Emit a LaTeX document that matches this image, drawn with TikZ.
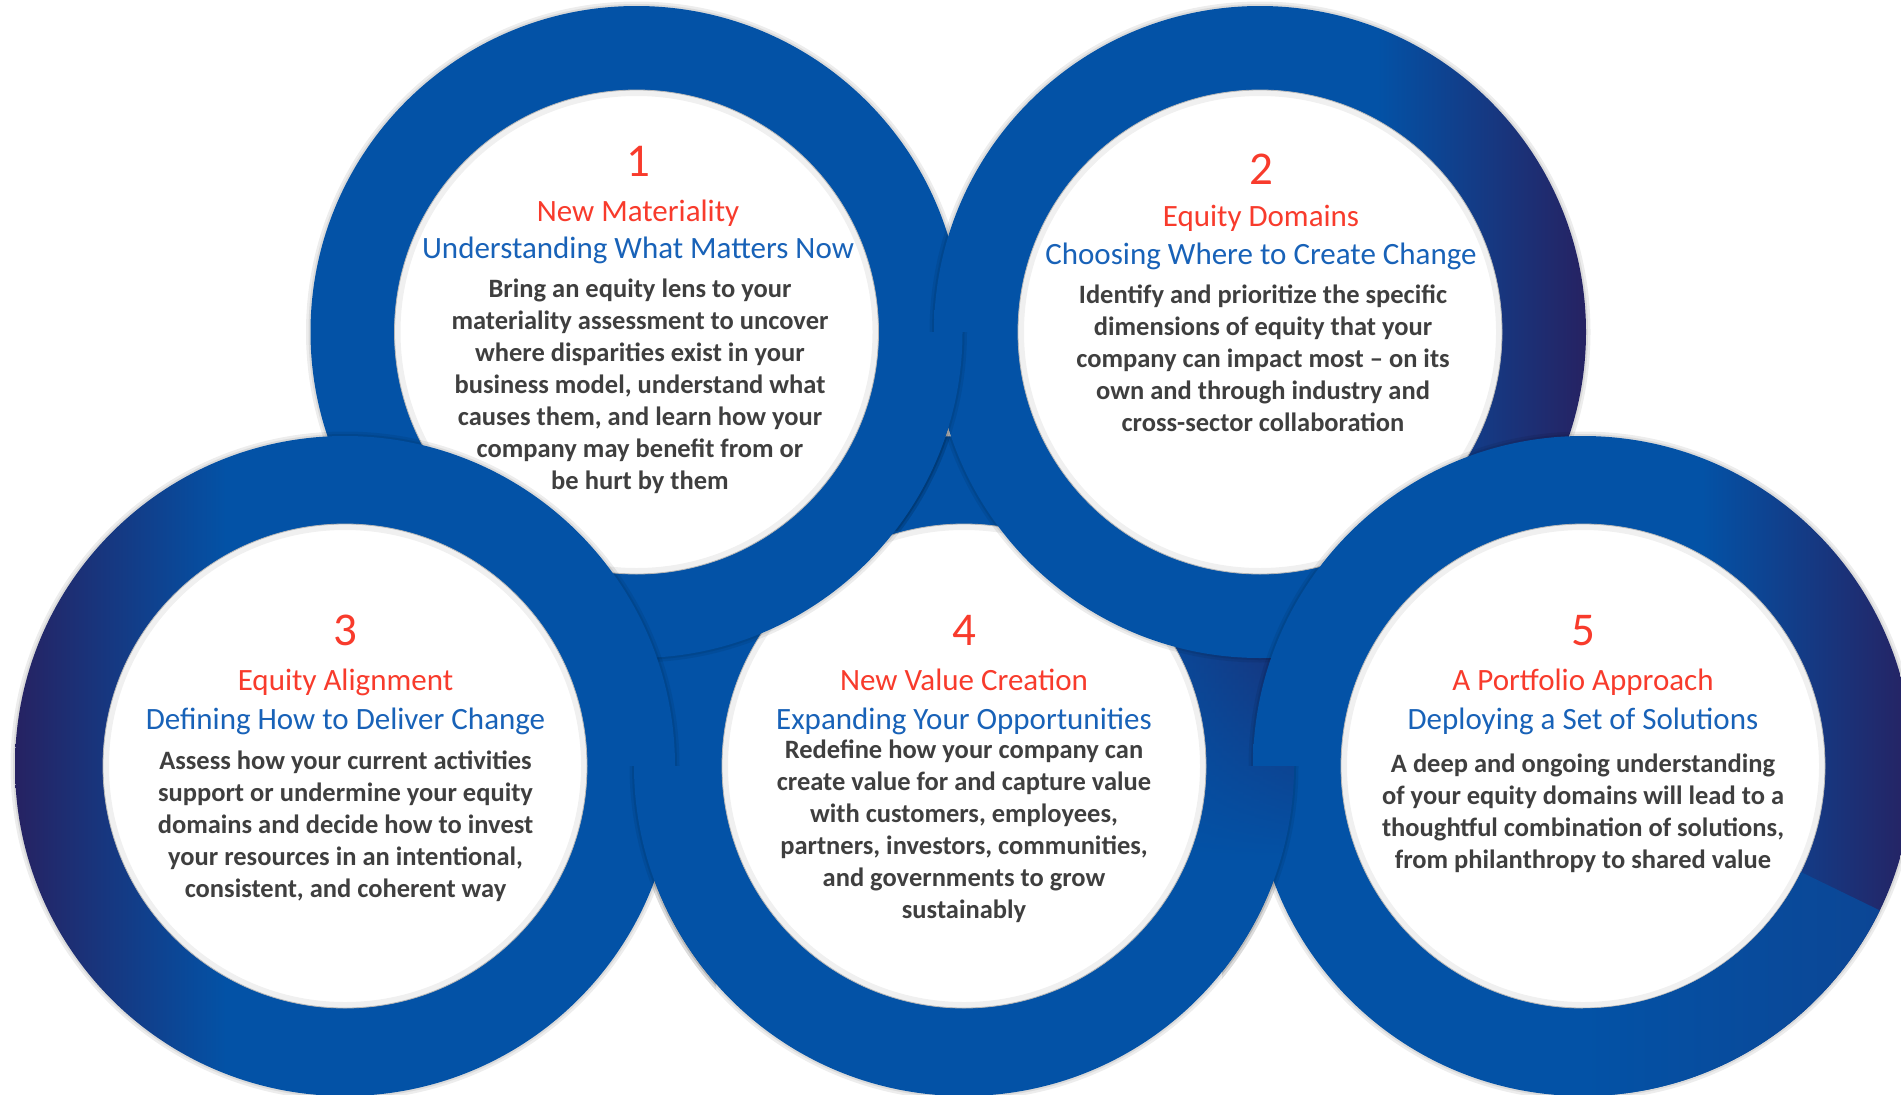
\documentclass[tikz,border=0pt]{standalone}
\usepackage{fontspec}
\setmainfont{Carlito}
\usetikzlibrary{fadings}
\definecolor{ringblue}{HTML}{0352A6}
\definecolor{ringnavy}{HTML}{262262}
\definecolor{titlered}{HTML}{F83B2C}
\definecolor{subblue}{HTML}{1862B8}
\definecolor{bodygray}{HTML}{3F3F3F}
\tikzfading[name=rfourfade, top color=transparent!0, middle color=transparent!0, bottom color=transparent!100]
\pgfdeclarehorizontalshading{ringright}{100bp}{color(0bp)=(ringblue); color(50bp)=(ringblue); color(59bp)=(ringblue); color(75bp)=(ringnavy); color(100bp)=(ringnavy)}
\pgfdeclarehorizontalshading{ringleft}{100bp}{color(0bp)=(ringnavy); color(25bp)=(ringnavy); color(41bp)=(ringblue); color(100bp)=(ringblue)}

\newcommand\ringshadowAt[2]{%
 \draw[black, opacity=0.07, line width=9pt] (#1) circle[radius=#2];
 \draw[black, opacity=0.08, line width=4pt] (#1) circle[radius=#2];}
\newcommand\ringinnerAt[1]{%
 \fill[white] (#1) circle[radius=242pt];
 \draw[black, opacity=0.06, line width=6pt] (#1) circle[radius=239pt];
 \draw[black!28, line width=0.8pt] (#1) circle[radius=242pt];}
\newcommand\plainringAt[3]{%
 \ringshadowAt{#1}{#2}
 \path[#3] (#1) circle[radius=#2];
 \ringinnerAt{#1}}
\newcommand\ringfour{%
 \ringshadowAt{c4}{330pt}
 \fill[ringblue] (c4) circle[radius=330pt];
 \begin{scope}
  \clip (c4) circle[radius=330pt];
  \shade[left color=ringblue, right color=ringnavy, path fading=rfourfade] (1110,540) rectangle (1300,860);
 \end{scope}
 \ringinnerAt{c4}}

\begin{document}
\begin{tikzpicture}[x=1pt,y=-1pt,
 numtxt/.style={text=titlered, font=\fontsize{47}{52}\selectfont, anchor=base, inner sep=0pt},
 titletxt/.style={text=titlered, font=\fontsize{31}{37}\selectfont, anchor=base, inner sep=0pt},
 subtxt/.style={text=subblue, font=\fontsize{31}{37}\selectfont, anchor=base, inner sep=0pt},
 bodytxt/.style={text=bodygray, font=\bfseries\fontsize{26.5}{32}\selectfont, anchor=north, inner sep=0pt, align=center}]
\useasboundingbox (0,0) rectangle (1901,1095);
\fill[white] (0,0) rectangle (1901,1095);
\coordinate (c1) at (636.5,332);
\coordinate (c2) at (1260,332);
\coordinate (c3) at (345,766);
\coordinate (c4) at (964,766);
\coordinate (c5) at (1583,766);
% rings, bottom to top
\ringfour
\plainringAt{c1}{326pt}{fill=ringblue}
\plainringAt{c2}{326pt}{shade, shading=ringright}
\plainringAt{c3}{330pt}{shade, shading=ringleft}
\plainringAt{c5}{330pt}{shade, shading=ringright}
% lighter lower-right segment of ring 5
\begin{scope}
 \clip (c5) -- (1953,946) -- (1953,1095) -- (1583,1095) -- cycle;
 \begin{scope}[even odd rule]
  \clip (c5) circle[radius=330pt] (c5) circle[radius=242.4pt];
  \shade[left color=ringblue, right color=ringblue!72!ringnavy] (1583,766) rectangle (1913,1096);
 \end{scope}
\end{scope}
% interlocking corrections
\begin{scope}
 \clip (895,332) rectangle (1010,530);
 \plainringAt{c1}{326pt}{fill=ringblue}
\end{scope}
\begin{scope}
 \clip (600,766) rectangle (716,1095);
 \ringfour
\end{scope}
\begin{scope}
 \clip (1222,766) rectangle (1338,1095);
 \ringfour
\end{scope}
% texts
\node[numtxt] (n1) at (638,176) {1};
\node[titletxt] (t1) at (638,221) {New Materiality};
\node[subtxt] (s1) at (638,258) {Understanding What Matters Now};
\node[bodytxt] (b1) at (640,274.6) {\strut Bring an equity lens to your\\materiality assessment to uncover\\where disparities exist in your\\business model, understand what\\causes them, and learn how your\\company may benefit from or\\be hurt by them};

\node[numtxt] (n2) at (1261,184) {2};
\node[titletxt] (t2) at (1261,226) {Equity Domains};
\node[subtxt] (s2) at (1261,264) {Choosing Where to Create Change};
\node[bodytxt] (b2) at (1263,280.6) {\strut Identify and prioritize the specific\\dimensions of equity that your\\company can impact most – on its\\own and through industry and\\cross-sector collaboration};

\node[numtxt] (n3) at (345.5,645) {3};
\node[titletxt] (t3) at (345.5,690) {Equity Alignment};
\node[subtxt] (s3) at (345.5,729) {Defining How to Deliver Change};
\node[bodytxt] (b3) at (345.5,746.6) {\strut Assess how your current activities\\support or undermine your equity\\domains and decide how to invest\\your resources in an intentional,\\consistent, and coherent way};

\node[numtxt] (n4) at (964,645) {4};
\node[titletxt] (t4) at (964,690) {New Value Creation};
\node[subtxt] (s4) at (964,729) {Expanding Your Opportunities};
\node[bodytxt] (b4) at (964,735.6) {\strut Redefine how your company can\\create value for and capture value\\with customers, employees,\\partners, investors, communities,\\and governments to grow\\sustainably};

\node[numtxt] (n5) at (1583,645) {5};
\node[titletxt] (t5) at (1583,690) {A Portfolio Approach};
\node[subtxt] (s5) at (1583,729) {Deploying a Set of Solutions};
\node[bodytxt] (b5) at (1583,749.6) {\strut A deep and ongoing understanding\\of your equity domains will lead to a\\thoughtful combination of solutions,\\from philanthropy to shared value};
\end{tikzpicture}
\end{document}
